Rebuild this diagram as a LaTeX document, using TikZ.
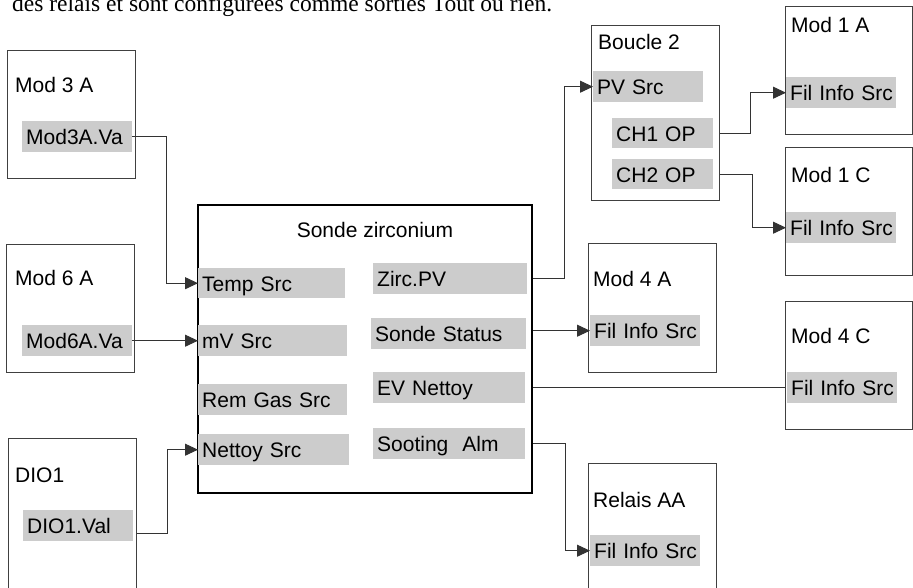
\documentclass[tikz,border=0pt]{standalone}
\usepackage{fontspec}
\setmainfont{Liberation Sans}
\newfontfamily\introfont{Liberation Serif}
\usetikzlibrary{arrows.meta}

\newcommand{\diagfont}{\fontsize{21}{25}\selectfont}

\begin{document}
\begin{tikzpicture}[
    x=1pt, y=-1pt,
    font=\diagfont,
    module/.style={
        draw=black!75, line width=1pt, anchor=north west,
        minimum width=128pt, minimum height=128pt, inner sep=0pt
    },
    sonde_box/.style={
        draw=black, line width=2pt, anchor=north west,
        minimum width=334pt, minimum height=288pt, inner sep=0pt
    },
    mod_title/.style={anchor=base west, inner sep=0pt},
    field/.style={
        anchor=north west, fill=black!20,
        text width=#1, align=left,
        text height=18pt, text depth=2pt,
        inner xsep=4pt, inner ysep=0pt, minimum height=31pt
    },
    link/.style={
        -{Triangle[length=13pt,width=12pt]},
        draw=black!80, line width=1pt
    },
    wire/.style={draw=black!80, line width=1pt}
]

\useasboundingbox (0,0) rectangle (913,588);
\clip (0,0) rectangle (913,588);

%% ── Texte (coupe en haut) ─────────────────
\node[anchor=base west, inner sep=0pt,
      font=\introfont\fontsize{23.5}{28}\selectfont] (intro) at (12,12)
    {des relais et sont configurées comme sorties Tout ou rien.};

%% ── Blocs ─────────────────────────────────
\node[module] (mod3a) at (7,50) {};
\node[module] (mod6a) at (6,244) {};
\node[module, minimum height=200pt] (dio1) at (8,438) {};
\node[sonde_box] (sonde) at (197,204) {};
\node[module, minimum height=175pt] (boucle) at (591,25) {};
\node[module, minimum width=127pt] (mod1a) at (785,6) {};
\node[module, minimum width=127pt] (mod1c) at (785,147) {};
\node[module, minimum height=129pt] (mod4a) at (588,243) {};
\node[module, minimum width=127pt] (mod4c) at (785,301) {};
\node[module, minimum height=200pt] (relais) at (588,463) {};

%% ── Titres ────────────────────────────────
\node[mod_title] (mod3a_t) at (15,93) {Mod 3 A};
\node[mod_title] (mod6a_t) at (15,285) {Mod 6 A};
\node[mod_title] (dio1_t) at (15,482) {DIO1};
\node[anchor=base, inner sep=0pt] (sonde_t) at (375,237) {Sonde zirconium};
\node[mod_title] (boucle_t) at (598,50) {Boucle 2};
\node[mod_title] (mod1a_t) at (791,33) {Mod 1 A};
\node[mod_title] (mod1c_t) at (791,183) {Mod 1 C};
\node[mod_title] (mod4a_t) at (593,286) {Mod 4 A};
\node[mod_title] (mod4c_t) at (791,343) {Mod 4 C};
\node[mod_title] (relais_t) at (593,507) {Relais AA};

%% ── Parametres ────────────────────────────
\node[field=102pt] (mod3a_va) at (22,121) {Mod3A.Va};
\node[field=102pt] (mod6a_va) at (22,325) {Mod6A.Va};
\node[field=102pt] (dio1_val) at (23,510) {DIO1.Val};

% entrees sonde
\node[field=139pt, minimum height=30pt] (temp_src) at (198,268) {Temp~Src};
\node[field=141pt] (mv_src) at (198,325) {mV~Src};
\node[field=141pt] (gas_src) at (198,384) {Rem~Gas~Src};
\node[field=143pt] (nettoy_src) at (198,434) {Nettoy~Src};

% sorties sonde
\node[field=146pt] (zirc_pv) at (373,263) {Zirc.PV};
\node[field=147pt] (sonde_status) at (371,318) {Sonde~Status};
\node[field=144pt] (ev_nettoy) at (373,372) {EV~Nettoy};
\node[field=144pt] (sooting) at (373,428) {Sooting~~Alm};

% boucle 2
\node[field=102pt] (pv_src) at (593,71) {PV~Src};
\node[field=93pt, minimum height=30pt] (ch1_op) at (612,118) {CH1~OP};
\node[field=93pt, minimum height=30pt] (ch2_op) at (612,159) {CH2~OP};

% destinations
\node[field=102pt] (mod1a_fil) at (786,77) {Fil~Info~Src};
\node[field=102pt] (mod1c_fil) at (786,212) {Fil~Info~Src};
\node[field=102pt] (mod4a_fil) at (590,315) {Fil~Info~Src};
\node[field=102pt] (mod4c_fil) at (787,372) {Fil~Info~Src};
\node[field=102pt] (relais_fil) at (590,535) {Fil~Info~Src};

%% ── Liaisons ──────────────────────────────
\coordinate (dio1_out) at (137,533);

\draw[link] (mod3a_va.east) -- ++(34,0) |- (temp_src.west);
\draw[link] (mod6a_va.east) -- (mv_src.west);
\draw[link] (dio1_out) -- ++(30,0) |- (nettoy_src.west);

\draw[link] (zirc_pv.east -| sonde.east) -- ++(31,0) |- (pv_src.west);
\draw[link] (mod4a_fil.west -| sonde.east) -- (mod4a_fil.west);
\draw[wire] (ev_nettoy.east -| sonde.east) -- (ev_nettoy.east -| mod4c.west);
\draw[link] (sooting.east -| sonde.east) -- ++(32,0) |- (relais_fil.west);

\draw[link] (ch1_op.east -| boucle.east) -- ++(30,0) |- (mod1a_fil.west);
\draw[link] (ch2_op.east -| boucle.east) -- ++(32,0) |- (mod1c_fil.west);

\end{tikzpicture}
\end{document}
